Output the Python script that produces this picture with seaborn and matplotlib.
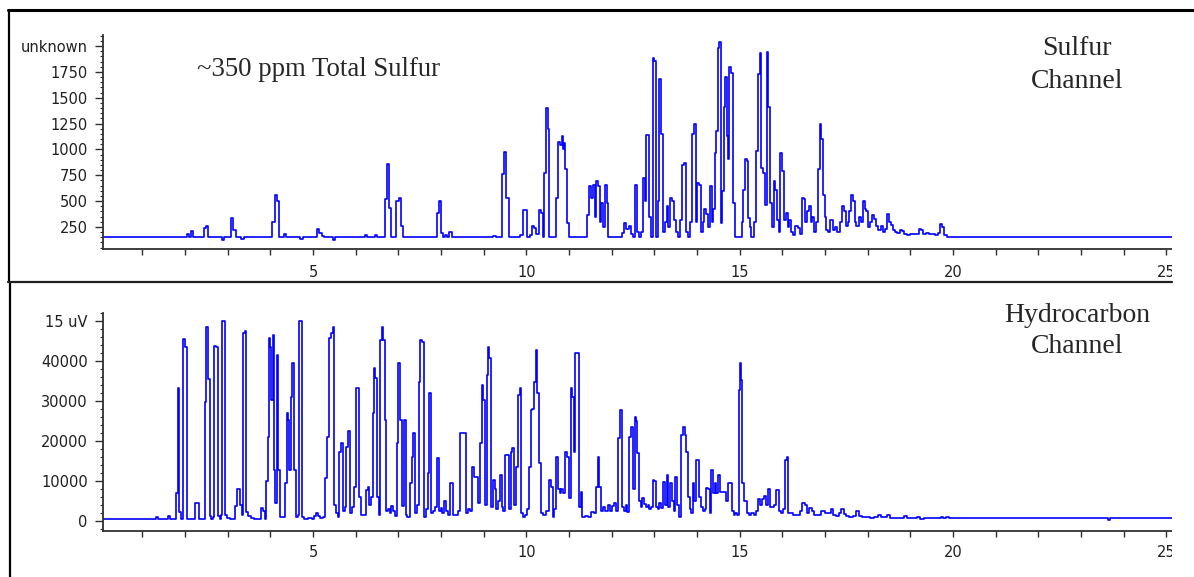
import matplotlib
matplotlib.use("Agg")
import matplotlib.pyplot as plt
import seaborn as sns
import pandas as pd
from matplotlib.ticker import FixedLocator, MultipleLocator
from matplotlib.lines import Line2D
from matplotlib.patches import Rectangle

# --- Sulfur channel trace (retention time in min, signal)
sulfur_time = [
    0.08, 2.02, 2.07, 2.12, 2.17, 2.22, 2.42, 2.47, 2.52, 2.57,
    2.85, 2.90, 2.95, 3.05, 3.11, 3.16, 3.21, 3.30, 3.35, 3.40,
    4.02, 4.08, 4.13, 4.18, 4.23, 4.30, 4.35, 4.40, 4.68, 4.73,
    4.78, 5.05, 5.12, 5.18, 5.24, 5.30, 5.45, 5.50, 5.55, 6.20,
    6.25, 6.30, 6.42, 6.47, 6.52, 6.66, 6.71, 6.76, 6.81, 6.86,
    6.93, 6.98, 7.03, 7.08, 7.13, 7.88, 7.93, 7.98, 8.03, 8.08,
    8.12, 8.17, 8.22, 8.28, 9.20, 9.25, 9.35, 9.42, 9.46, 9.51,
    9.56, 9.61, 9.80, 9.88, 9.95, 10.00, 10.05, 10.10, 10.16, 10.21,
    10.26, 10.32, 10.37, 10.40, 10.44, 10.48, 10.52, 10.56, 10.66, 10.72,
    10.77, 10.81, 10.84, 10.87, 10.90, 10.93, 10.97, 11.02, 11.40, 11.45,
    11.50, 11.54, 11.58, 11.62, 11.66, 11.70, 11.74, 11.78, 11.82, 11.86,
    11.90, 11.95, 12.20, 12.27, 12.32, 12.37, 12.42, 12.47, 12.52, 12.58,
    12.62, 12.66, 12.70, 12.75, 12.79, 12.84, 12.89, 12.94, 12.98, 13.02,
    13.06, 13.10, 13.14, 13.18, 13.22, 13.27, 13.31, 13.35, 13.40, 13.44,
    13.48, 13.53, 13.58, 13.63, 13.68, 13.72, 13.77, 13.82, 13.86, 13.91,
    13.95, 13.99, 14.03, 14.07, 14.11, 14.15, 14.20, 14.24, 14.28, 14.32,
    14.36, 14.40, 14.43, 14.46, 14.50, 14.53, 14.57, 14.61, 14.65, 14.68,
    14.71, 14.74, 14.78, 14.82, 14.86, 14.90, 15.02, 15.07, 15.10, 15.14,
    15.18, 15.21, 15.25, 15.30, 15.36, 15.41, 15.45, 15.49, 15.52, 15.57,
    15.61, 15.65, 15.69, 15.73, 15.78, 15.82, 15.85, 15.89, 15.93, 15.98,
    16.02, 16.06, 16.10, 16.14, 16.18, 16.22, 16.27, 16.33, 16.38, 16.43,
    16.48, 16.52, 16.56, 16.60, 16.64, 16.68, 16.72, 16.76, 16.80, 16.85,
    16.89, 16.93, 16.97, 17.01, 17.05, 17.10, 17.15, 17.20, 17.26, 17.32,
    17.38, 17.43, 17.47, 17.51, 17.55, 17.59, 17.63, 17.67, 17.71, 17.76,
    17.81, 17.86, 17.90, 17.95, 17.99, 18.03, 18.08, 18.13, 18.18, 18.22,
    18.27, 18.33, 18.38, 18.43, 18.48, 18.52, 18.57, 18.62, 18.67, 18.72,
    18.77, 18.82, 18.88, 18.95, 19.05, 19.15, 19.23, 19.28, 19.33, 19.40,
    19.48, 19.55, 19.62, 19.68, 19.73, 19.77, 19.82, 19.88, 25.13,
]
sulfur_signal = [
    150, 150, 182, 150, 212, 150, 150, 240, 255, 150,
    150, 128, 150, 150, 341, 224, 150, 150, 132, 150,
    150, 295, 556, 497, 150, 150, 182, 150, 150, 130,
    150, 150, 227, 195, 160, 150, 150, 128, 150, 150,
    168, 150, 150, 168, 150, 150, 521, 856, 433, 150,
    150, 497, 530, 255, 150, 150, 390, 497, 190, 150,
    170, 150, 200, 150, 150, 165, 150, 150, 758, 980,
    530, 150, 150, 170, 416, 416, 150, 170, 255, 240,
    180, 416, 390, 150, 775, 1403, 1198, 150, 150, 530,
    1068, 1040, 1133, 1003, 1060, 807, 287, 150, 150, 367,
    644, 530, 660, 350, 693, 644, 300, 480, 250, 660,
    480, 150, 150, 190, 287, 230, 255, 180, 150, 655,
    200, 150, 200, 725, 500, 1140, 350, 150, 1890, 1860,
    150, 500, 1680, 1150, 200, 300, 450, 250, 530, 500,
    320, 200, 150, 320, 850, 870, 200, 150, 300, 1150,
    1245, 300, 677, 660, 200, 300, 420, 380, 250, 644,
    300, 420, 970, 1180, 1980, 2045, 290, 600, 1410, 1703,
    1133, 905, 1800, 1736, 480, 150, 150, 300, 611, 905,
    890, 336, 250, 150, 300, 986, 1735, 1930, 825, 775,
    460, 1947, 1410, 480, 250, 693, 611, 320, 200, 970,
    790, 320, 385, 250, 320, 200, 170, 255, 240, 180,
    530, 520, 300, 400, 450, 300, 350, 200, 300, 807,
    1247, 1100, 560, 350, 220, 200, 320, 220, 250, 200,
    300, 450, 400, 260, 300, 400, 560, 500, 300, 260,
    350, 300, 497, 420, 400, 250, 300, 367, 330, 255,
    220, 255, 200, 230, 380, 300, 270, 220, 200, 190,
    220, 210, 180, 175, 185, 180, 230, 220, 185, 190,
    180, 185, 175, 190, 280, 250, 175, 150, 150,
]

# --- Hydrocarbon channel trace
hc_time = [
    0.08, 1.30, 1.34, 1.38, 1.58, 1.62, 1.66, 1.78, 1.82, 1.85,
    1.89, 1.93, 1.97, 2.02, 2.06, 2.22, 2.26, 2.31, 2.35, 2.44,
    2.48, 2.52, 2.56, 2.60, 2.64, 2.67, 2.71, 2.75, 2.79, 2.83,
    2.86, 2.89, 2.93, 2.97, 3.02, 3.08, 3.15, 3.20, 3.24, 3.28,
    3.31, 3.35, 3.38, 3.42, 3.46, 3.50, 3.58, 3.66, 3.76, 3.81,
    3.85, 3.89, 3.92, 3.95, 3.98, 4.01, 4.04, 4.07, 4.10, 4.13,
    4.17, 4.21, 4.25, 4.32, 4.37, 4.40, 4.43, 4.46, 4.50, 4.54,
    4.58, 4.62, 4.66, 4.69, 4.73, 4.77, 4.82, 4.95, 5.00, 5.05,
    5.10, 5.14, 5.20, 5.26, 5.32, 5.36, 5.40, 5.44, 5.48, 5.52,
    5.56, 5.60, 5.64, 5.68, 5.72, 5.76, 5.80, 5.84, 5.88, 5.93,
    5.98, 6.03, 6.07, 6.11, 6.16, 6.21, 6.26, 6.30, 6.34, 6.38,
    6.42, 6.45, 6.48, 6.52, 6.56, 6.60, 6.63, 6.66, 6.70, 6.74,
    6.78, 6.82, 6.86, 6.90, 6.94, 6.98, 7.02, 7.06, 7.10, 7.15,
    7.19, 7.24, 7.29, 7.33, 7.37, 7.41, 7.46, 7.50, 7.54, 7.58,
    7.62, 7.67, 7.71, 7.75, 7.79, 7.84, 7.88, 7.93, 7.97, 8.01,
    8.05, 8.10, 8.14, 8.18, 8.22, 8.26, 8.30, 8.36, 8.42, 8.47,
    8.52, 8.57, 8.61, 8.66, 8.71, 8.76, 8.80, 8.85, 8.89, 8.93,
    8.97, 9.01, 9.05, 9.09, 9.12, 9.15, 9.19, 9.23, 9.28, 9.32,
    9.36, 9.40, 9.44, 9.48, 9.53, 9.57, 9.61, 9.65, 9.69, 9.73,
    9.77, 9.82, 9.86, 9.90, 9.95, 10.00, 10.04, 10.08, 10.12, 10.16,
    10.20, 10.23, 10.27, 10.31, 10.36, 10.44, 10.50, 10.55, 10.60, 10.64,
    10.68, 10.72, 10.76, 10.80, 10.84, 10.89, 10.93, 10.97, 11.01, 11.06,
    11.09, 11.13, 11.17, 11.21, 11.25, 11.29, 11.33, 11.40, 11.48, 11.56,
    11.61, 11.65, 11.69, 11.73, 11.78, 11.83, 11.88, 11.93, 11.98, 12.03,
    12.08, 12.12, 12.18, 12.22, 12.26, 12.30, 12.35, 12.39, 12.44, 12.48,
    12.52, 12.55, 12.58, 12.62, 12.66, 12.70, 12.74, 12.78, 12.82, 12.86,
    12.90, 12.94, 12.98, 13.02, 13.06, 13.10, 13.14, 13.18, 13.22, 13.26,
    13.31, 13.35, 13.39, 13.43, 13.47, 13.52, 13.56, 13.60, 13.65, 13.69,
    13.73, 13.77, 13.81, 13.85, 13.88, 13.92, 13.96, 13.99, 14.03, 14.07,
    14.11, 14.16, 14.20, 14.24, 14.28, 14.31, 14.35, 14.39, 14.43, 14.47,
    14.51, 14.55, 14.60, 14.65, 14.70, 14.75, 14.80, 14.84, 14.88, 14.92,
    14.96, 14.99, 15.02, 15.05, 15.08, 15.12, 15.16, 15.20, 15.25, 15.30,
    15.35, 15.40, 15.45, 15.50, 15.55, 15.60, 15.64, 15.68, 15.72, 15.77,
    15.82, 15.87, 15.91, 15.95, 16.00, 16.05, 16.08, 16.12, 16.16, 16.22,
    16.30, 16.38, 16.44, 16.50, 16.55, 16.60, 16.66, 16.71, 16.76, 16.85,
    16.95, 17.05, 17.12, 17.17, 17.22, 17.30, 17.36, 17.41, 17.46, 17.52,
    17.60, 17.70, 17.76, 17.81, 17.90, 18.00, 18.10, 18.20, 18.27, 18.33,
    18.42, 18.50, 18.56, 18.70, 18.80, 18.89, 18.94, 19.10, 19.20, 19.26,
    19.40, 19.70, 19.75, 19.80, 19.88, 19.95, 23.60, 23.65, 23.70, 25.13,
]
hc_signal = [
    500, 500, 1100, 500, 500, 1250, 500, 500, 6900, 33300,
    2300, 500, 45400, 43400, 500, 500, 4600, 4600, 500, 500,
    29800, 48600, 35400, 1200, 500, 1000, 43800, 43400, 1200, 500,
    1500, 50000, 50000, 1500, 800, 500, 500, 3800, 8100, 8100,
    4000, 1500, 47000, 47400, 2200, 1200, 800, 500, 500, 3200,
    2500, 600, 10000, 21000, 45700, 43600, 30200, 46500, 12700, 4400,
    41500, 12700, 1100, 1100, 9400, 26900, 25200, 12700, 31100, 39400,
    12700, 1000, 1500, 50000, 50000, 1000, 500, 800, 600, 1200,
    2100, 1200, 800, 1000, 10700, 21100, 45700, 47000, 48600, 4000,
    2000, 1000, 17300, 19400, 2600, 3600, 18600, 22500, 1900, 3500,
    8600, 33300, 33300, 6100, 1500, 1500, 7700, 8600, 4000, 6100,
    26900, 38200, 35700, 6100, 1500, 45200, 48600, 45200, 25200, 2600,
    3000, 2000, 3800, 2600, 1200, 19400, 39400, 25200, 3800, 25200,
    1500, 1100, 9400, 16100, 22100, 2000, 4000, 34800, 45200, 44800,
    1000, 3000, 11900, 31900, 2000, 2500, 3500, 15700, 2500, 3300,
    2000, 5100, 2500, 1500, 9600, 9600, 1500, 1500, 2500, 22100,
    22100, 22000, 2000, 3000, 2500, 13600, 11100, 11100, 4500, 19400,
    34000, 30200, 4000, 36500, 43600, 40700, 3500, 10200, 8000, 3000,
    5000, 11500, 3500, 2500, 16500, 16500, 3000, 17300, 18200, 4000,
    13600, 31500, 33200, 2000, 1000, 1500, 3000, 13600, 27700, 28000,
    34800, 42700, 31900, 14400, 2000, 1500, 2500, 10200, 8500, 1000,
    3000, 16100, 8000, 7000, 8000, 7000, 17300, 16000, 5800, 33200,
    31100, 17300, 42000, 42000, 3400, 7200, 1000, 1200, 1000, 2200,
    2000, 8500, 16100, 8500, 2500, 3500, 2500, 4000, 2500, 3800,
    4500, 2500, 20700, 27700, 3500, 2500, 4000, 2200, 21100, 23600,
    8000, 26100, 25000, 16900, 5000, 3400, 5800, 4200, 3400, 4000,
    3000, 3500, 10200, 10000, 3400, 3000, 4500, 3200, 9800, 4000,
    11500, 3500, 9400, 5000, 2500, 11100, 4000, 1000, 21500, 23600,
    21500, 17300, 6000, 3000, 2000, 9400, 5000, 15200, 15200, 6100,
    3400, 2500, 3000, 8200, 8000, 2000, 12700, 7000, 9400, 7000,
    11500, 7300, 7300, 7300, 5000, 9600, 9600, 2500, 1500, 2000,
    1500, 32700, 39400, 35200, 9400, 5000, 5000, 2000, 1500, 2000,
    1500, 2500, 5500, 4000, 5500, 6300, 4000, 8000, 3400, 3400,
    4000, 7700, 7700, 2500, 2000, 3000, 15200, 16100, 2000, 2000,
    1500, 1500, 2500, 4600, 4000, 2000, 3200, 2500, 1500, 1500,
    2500, 2000, 2000, 3000, 1500, 1200, 2000, 3000, 1800, 1200,
    1000, 1200, 2400, 1200, 900, 1000, 800, 900, 1600, 900,
    900, 1500, 800, 700, 800, 1200, 700, 700, 900, 600,
    700, 700, 1000, 700, 1000, 800, 800, 300, 800, 800,
]

sulfur_ticks = [250, 500, 750, 1000, 1250, 1500, 1750, 2000]
sulfur_labels = ['250', '500', '750', '1000', '1250', '1500', '1750', 'unknown']
hc_ticks = [0, 10000, 20000, 30000, 40000, 50000]
hc_labels = ['0', '10000', '20000', '30000', '40000', '15 uV']

df_s = pd.DataFrame({'time': sulfur_time, 'signal': sulfur_signal})
df_h = pd.DataFrame({'time': hc_time, 'signal': hc_signal})

sns.set_style("ticks")
plt.rcParams['font.family'] = ['DejaVu Sans']

W, H = 1194, 577
fig = plt.figure(figsize=(W / 100, H / 100), dpi=100)


def add_axes_px(left, top, right, bottom):
    return fig.add_axes([left / W, 1 - bottom / H, (right - left) / W, (bottom - top) / H])


ax_s = add_axes_px(103, 35, 1172, 249)
ax_h = add_axes_px(103, 313, 1172, 531)

trace_color = '#0000ff'
sns.lineplot(data=df_s, x='time', y='signal', ax=ax_s, color=trace_color, lw=1.2,
             drawstyle='steps-mid', estimator=None, sort=False)
sns.lineplot(data=df_h, x='time', y='signal', ax=ax_h, color=trace_color, lw=1.2,
             drawstyle='steps-mid', estimator=None, sort=False)

ax_s.set_ylim(37, 2108)
ax_h.set_ylim(-2500, 52000)

for ax, ticks, labels, minor, xpad in [(ax_s, sulfur_ticks, sulfur_labels, 50, 6.8),
                                        (ax_h, hc_ticks, hc_labels, 2000, 5.8)]:
    ax.set_xlim(0.08, 25.13)
    ax.set_xlabel('')
    ax.set_ylabel('')
    for side in ['top', 'right']:
        ax.spines[side].set_visible(False)
    for side in ['left', 'bottom']:
        ax.spines[side].set_color('#303030')
        ax.spines[side].set_linewidth(1.3)
    ax.xaxis.set_major_locator(MultipleLocator(5))
    ax.xaxis.set_minor_locator(MultipleLocator(1))
    ax.yaxis.set_major_locator(FixedLocator(ticks))
    ax.set_yticklabels(labels)
    ax.yaxis.set_minor_locator(MultipleLocator(minor))
    ax.tick_params(axis='x', which='both', length=4.5, width=1, color='#303030',
                   labelsize=10.5, pad=xpad, labelcolor='#202020')
    ax.tick_params(axis='y', which='major', length=5.5, width=1, color='#303030',
                   labelsize=10.5, pad=5.5, labelcolor='#202020')
    ax.tick_params(axis='y', which='minor', length=2.5, width=0.8, color='#303030')
    ax.grid(False)

serif = 'Liberation Serif'
fig.text(197 / W, 1 - 76 / H, '~350 ppm Total Sulfur', fontsize=19.3, family=serif,
         ha='left', va='baseline')
fig.text(1077 / W, 1 - 55 / H, 'Sulfur', fontsize=20, family=serif, ha='center', va='baseline')
fig.text(1077 / W, 1 - 88 / H, 'Channel', fontsize=20, family=serif, ha='center', va='baseline')
fig.text(1077 / W, 1 - 322 / H, 'Hydrocarbon', fontsize=20, family=serif, ha='center', va='baseline')
fig.text(1077 / W, 1 - 353 / H, 'Channel', fontsize=20, family=serif, ha='center', va='baseline')

# screenshot frame: crop on the right, border lines
fig.add_artist(Rectangle((1172 / W, 0), (W - 1172) / W, 1 - 12 / H, transform=fig.transFigure,
                         facecolor='white', edgecolor='none', zorder=5))
fig.add_artist(Line2D([8 / W, 1], [1 - 10 / H, 1 - 10 / H], transform=fig.transFigure,
                      color='black', lw=2.2, zorder=6))
fig.add_artist(Line2D([8.5 / W, 8.5 / W], [1 - 10 / H, 1 - 282 / H], transform=fig.transFigure,
                      color='black', lw=1.6, zorder=6))
fig.add_artist(Line2D([10 / W, 10 / W], [1 - 282 / H, 0], transform=fig.transFigure,
                      color='black', lw=1.6, zorder=6))
fig.add_artist(Line2D([8 / W, 1172 / W], [1 - 282 / H, 1 - 282 / H], transform=fig.transFigure,
                      color='#202020', lw=1.6, zorder=6))

fig.savefig('out.png', dpi=100)
